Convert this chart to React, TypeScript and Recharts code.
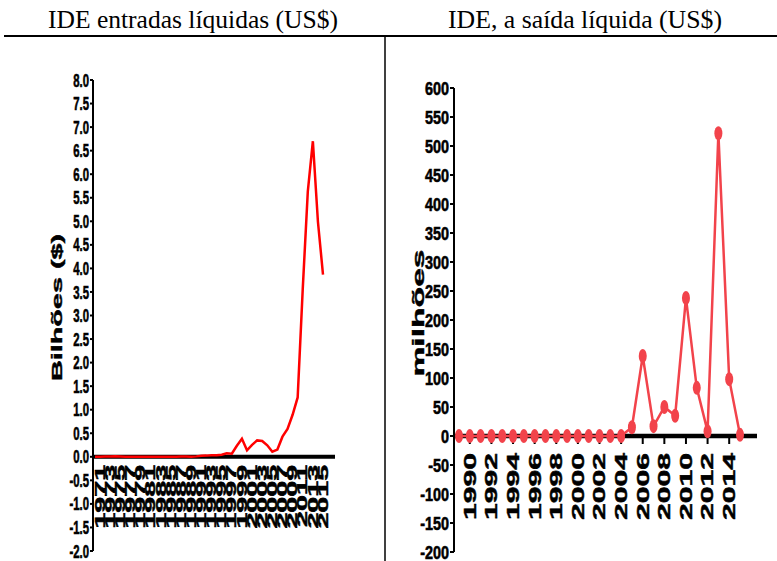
import React from "react";
import { LineChart, Line, XAxis, YAxis, ReferenceLine, ReferenceDot, Label } from "recharts";

// IDE entradas (bilhões US$)
const inYears = [
  1970, 1971, 1972, 1973, 1974, 1975, 1976, 1977, 1978, 1979, 1980, 1981, 1982, 1983, 1984, 1985,
  1986, 1987, 1988, 1989, 1990, 1991, 1992, 1993, 1994, 1995, 1996, 1997, 1998, 1999, 2000, 2001,
  2002, 2003, 2004, 2005, 2006, 2007, 2008, 2009, 2010, 2011, 2012, 2013, 2014, 2015,
];
const inValues = [
  0.002, 0.003, 0.005, 0.004, 0.01, 0.008, 0.0, 0.0, 0.0, 0.0, 0.0, 0.0, 0.0, 0.0, 0.0, 0.0003,
  0.0016, 0.006, 0.005, 0.0035, 0.009, 0.023, 0.025, 0.032, 0.035, 0.045, 0.073, 0.064, 0.235, 0.382, 0.139, 0.255,
  0.348, 0.337, 0.245, 0.108, 0.154, 0.427, 0.592, 0.893, 1.26, 3.56, 5.63, 6.7, 4.99, 3.87,
];
const inXTicks = [
  1971, 1973, 1975, 1977, 1979, 1981, 1983, 1985, 1987, 1989, 1991, 1993, 1995, 1997, 1999, 2001,
  2003, 2005, 2007, 2009, 2011, 2013, 2015,
];
const inYTicks = [
  -2, -1.5, -1, -0.5, 0, 0.5, 1, 1.5, 2, 2.5, 3, 3.5, 4, 4.5, 5, 5.5, 6, 6.5, 7, 7.5, 8,
];

// IDE saída (milhões US$)
const outYears = [
  1989, 1990, 1991, 1992, 1993, 1994, 1995, 1996, 1997, 1998, 1999, 2000, 2001, 2002, 2003, 2004,
  2005, 2006, 2007, 2008, 2009, 2010, 2011, 2012, 2013, 2014, 2015,
];
const outValues = [
  0, 0, 0, 0, 0, 0, 0, 0, 0, 0, 0, 0, 0, 0, 0, 0,
  15, 138, 17, 50, 35, 238, 83, 8, 522, 98, 2,
];
const outXTicks = [1990, 1992, 1994, 1996, 1998, 2000, 2002, 2004, 2006, 2008, 2010, 2012, 2014];
const outYTicks = [
  -200, -150, -100, -50, 0, 50, 100, 150, 200, 250, 300, 350, 400, 450, 500, 550, 600,
];

const inData = inYears.map((year, i) => ({ year, value: inValues[i] }));
const outData = outYears.map((year, i) => ({ year, value: outValues[i] }));

const sans = "'Liberation Sans', Arial, sans-serif";
const serif = "'Times New Roman', 'Liberation Serif', serif";
const outRed = "#f2434b";

const yTick = (fontSize: number, sx: number, fmt: (v: number) => string) => (props: any) => {
  const { x, y, payload } = props;
  return (
    <text
      transform={`translate(${x},${y}) scale(${sx},1)`}
      textAnchor="end"
      dominantBaseline="central"
      fontFamily={sans}
      fontWeight={700}
      fontSize={fontSize}
      fill="#000"
      stroke="#000"
      strokeWidth={0.6}
    >
      {fmt(payload.value)}
    </text>
  );
};

// year label hanging under the zero line
const yearLabel = (year: number, gap: number, fontSize: number, sx: number, tick: number) => (props: any) => {
  const { cx, cy } = props;
  return (
    <g>
      {tick > 0 && <line x1={cx} x2={cx} y1={cy} y2={cy + tick} stroke="#000" strokeWidth={2} />}
      <text
        transform={`translate(${cx},${cy + gap}) rotate(-90) scale(${sx},1)`}
        textAnchor="end"
        dominantBaseline="central"
        fontFamily={sans}
        fontWeight={700}
        fontSize={fontSize}
        fill="#000"
        stroke="#000"
        strokeWidth={0.45}
      >
        {year}
      </text>
    </g>
  );
};

const axisTitle = (text: string, dx: number, dy: number, fontSize: number, sx: number) => (props: any) => {
  const vb = props.viewBox;
  const cx = vb.x + dx;
  const cy = vb.y + vb.height / 2 + dy;
  return (
    <text
      transform={`translate(${cx},${cy}) rotate(-90) scale(${sx},1)`}
      textAnchor="middle"
      dominantBaseline="central"
      fontFamily={sans}
      fontWeight={700}
      fontSize={fontSize}
      fill="#000"
      stroke="#000"
      strokeWidth={0.4}
    >
      {text}
    </text>
  );
};

const OutDot = (p: any) => <ellipse key={p.index} cx={p.cx} cy={p.cy} rx={4} ry={7} fill={outRed} />;

export default function App() {
  return (
    <div style={{ position: "absolute", left: 0, top: 0, width: 777, height: 561, background: "#fff", overflow: "hidden" }}>
      <svg width={777} height={561} style={{ position: "absolute", left: 0, top: 0 }}>
        <text x={193} y={28} textAnchor="middle" fontFamily={serif} fontSize={25} textLength={290} lengthAdjust="spacingAndGlyphs">
          IDE entradas líquidas (US$)
        </text>
        <text x={585} y={28} textAnchor="middle" fontFamily={serif} fontSize={25} textLength={274} lengthAdjust="spacingAndGlyphs">
          IDE, a saída líquida (US$)
        </text>
        <line x1={4} x2={777} y1={36} y2={36} stroke="#000" strokeWidth={2} />
        <line x1={385} x2={385} y1={36} y2={561} stroke="#000" strokeWidth={1.5} />
      </svg>

      <div style={{ position: "absolute", left: 0, top: 0 }}>
        <LineChart width={385} height={561} data={inData} margin={{ top: 80, right: 50, bottom: 10, left: 0 }}>
          <XAxis type="number" dataKey="year" domain={[1970, 2015]} padding={{ left: 2, right: 12 }} hide />
          <YAxis
            type="number"
            domain={[-2, 8]}
            ticks={inYTicks}
            interval={0}
            width={93}
            tickSize={3}
            tickMargin={1}
            axisLine={{ stroke: "#000", strokeWidth: 2 }}
            tickLine={{ stroke: "#000", strokeWidth: 2 }}
            tick={yTick(18, 0.63, (v) => v.toFixed(1))}
          >
            <Label content={axisTitle("Bilhões ($)", 57, -8, 15, 1.92)} />
          </YAxis>
          <ReferenceLine y={0} stroke="#000" strokeWidth={4} />
          {inXTicks.map((yr) => (
            <ReferenceDot key={yr} x={yr} y={0} r={0} ifOverflow="visible" shape={yearLabel(yr, 8, 14, 2.05, 0)} />
          ))}
          <Line type="linear" dataKey="value" stroke="#ff0000" strokeWidth={2.5} dot={false} activeDot={false} isAnimationActive={false} />
        </LineChart>
      </div>

      <div style={{ position: "absolute", left: 385, top: 0 }}>
        <LineChart width={392} height={561} data={outData} margin={{ top: 88, right: 20, bottom: 9, left: 0 }}>
          <XAxis type="number" dataKey="year" domain={[1989, 2015]} padding={{ left: 5, right: 17 }} hide />
          <YAxis
            type="number"
            domain={[-200, 600]}
            ticks={outYTicks}
            interval={0}
            width={69}
            tickSize={4}
            tickMargin={1}
            axisLine={{ stroke: "#000", strokeWidth: 2 }}
            tickLine={{ stroke: "#000", strokeWidth: 2 }}
            tick={yTick(18, 0.8, (v) => String(v))}
          >
            <Label content={axisTitle("milhões", 33, -7, 17, 1.98)} />
          </YAxis>
          <ReferenceLine y={0} stroke="#000" strokeWidth={4.5} />
          {outXTicks.map((yr) => (
            <ReferenceDot key={yr} x={yr} y={0} r={0} ifOverflow="visible" shape={yearLabel(yr, 17, 17, 1.77, 8)} />
          ))}
          <Line
            type="linear"
            dataKey="value"
            stroke={outRed}
            strokeWidth={2.5}
            dot={OutDot}
            activeDot={false}
            isAnimationActive={false}
          />
        </LineChart>
      </div>
    </div>
  );
}
